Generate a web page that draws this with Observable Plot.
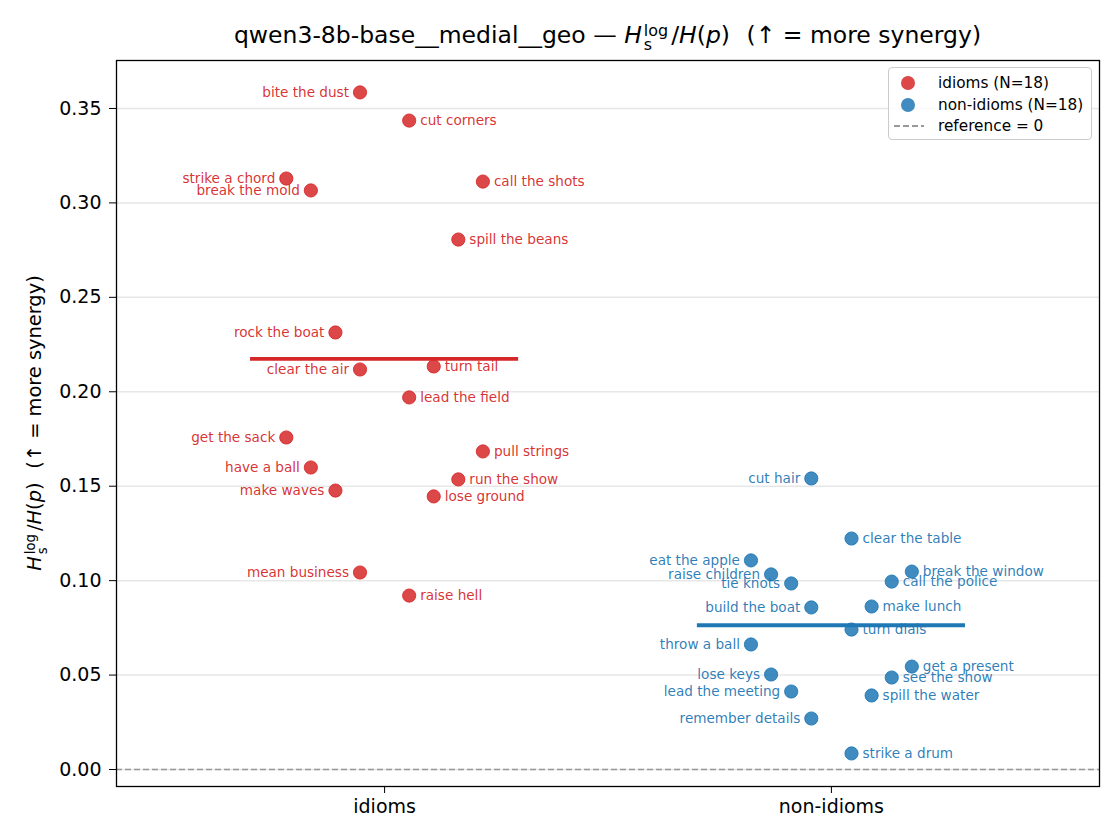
<!DOCTYPE html>
<html>
<head>
<meta charset="utf-8">
<script src="https://cdn.jsdelivr.net/npm/d3@7"></script>
<script src="https://cdn.jsdelivr.net/npm/@observablehq/plot@0.6"></script>
<style>
  body { margin: 0; background: white; font-family: "DejaVu Sans", sans-serif; }
  #wrap { position: relative; width: 1120px; height: 840px; overflow: hidden; }
  #title { position: absolute; left: 116px; width: 983px; top: 21px; text-align: center; font-size: 23.5px; white-space: nowrap; color: #000; }
  #ylab { position: absolute; left: 36px; top: 423px; transform: translate(-50%, -50%) rotate(-90deg); font-size: 19.4px; white-space: nowrap; color: #000; }
  .ss { display: inline-block; font-size: 0.68em; line-height: 0.9; vertical-align: -0.45em; margin: 0 3px 0 2px; text-align: left; }
  .ss span { display: block; }
  .it { font-style: italic; }
  .sp { display: inline-block; width: 0.7em; }
  #legend { position: absolute; left: 888px; top: 67px; width: 202px; height: 71px; border: 1px solid #cccccc; border-radius: 4px; background: rgba(255,255,255,0.8); font-size: 15.3px; color: #000; }
  .lrow { position: absolute; left: 0; height: 20px; line-height: 20px; }
  .lrow .mk { position: absolute; left: 12px; top: 3px; width: 14px; height: 14px; border-radius: 50%; }
  .lrow svg { position: absolute; left: 4px; top: 0; }
  .lrow .tx { position: absolute; left: 49px; top: 0; white-space: nowrap; }
</style>
</head>
<body>
<div id="wrap">
  <div id="chart"></div>
  <div id="title">qwen3-8b-base__medial__geo — <span class="it">H</span><span class="ss"><span>log</span><span>s</span></span>/<span class="it">H</span>(<span class="it">p</span>)<span class="sp"></span>(↑ = more synergy)</div>
  <div id="ylab"><span class="it">H</span><span class="ss"><span>log</span><span>s</span></span>/<span class="it">H</span>(<span class="it">p</span>)<span class="sp"></span>(↑ = more synergy)</div>
  <div id="legend"></div>
</div>
<script>
const categories = ["idioms", "non-idioms"];
const groupColors = ["#d62728", "#1f77b4"];

const idiomPhrases = ["bite the dust", "cut corners", "call the shots", "strike a chord", "break the mold", "spill the beans",
  "rock the boat", "turn tail", "clear the air", "lead the field", "get the sack", "pull strings",
  "have a ball", "run the show", "make waves", "lose ground", "mean business", "raise hell"];
const idiomValues = [0.3585, 0.3436, 0.3113, 0.3129, 0.3066, 0.2806,
  0.2314, 0.2134, 0.2118, 0.1970, 0.1758, 0.1684,
  0.1599, 0.1536, 0.1477, 0.1446, 0.1043, 0.0921];
const idiomJitter = [-0.055, 0.055, 0.22, -0.22, -0.165, 0.165,
  -0.11, 0.11, -0.055, 0.055, -0.22, 0.22,
  -0.165, 0.165, -0.11, 0.11, -0.055, 0.055];

const nonIdiomPhrases = ["cut hair", "clear the table", "eat the apple", "break the window", "raise children", "call the police",
  "tie knots", "make lunch", "build the boat", "turn dials", "throw a ball", "get a present",
  "lose keys", "see the show", "lead the meeting", "spill the water", "remember details", "strike a drum"];
const nonIdiomValues = [0.1541, 0.1223, 0.1107, 0.1048, 0.1033, 0.0995,
  0.0985, 0.0863, 0.0858, 0.0741, 0.0662, 0.0545,
  0.0503, 0.0487, 0.0413, 0.0392, 0.0270, 0.0085];
const nonIdiomJitter = [-0.045, 0.045, -0.18, 0.18, -0.135, 0.135,
  -0.09, 0.09, -0.045, 0.045, -0.18, 0.18,
  -0.135, 0.135, -0.09, 0.09, -0.045, 0.045];

const yTicks = [0, 0.05, 0.10, 0.15, 0.20, 0.25, 0.30, 0.35];
const xTicks = [0, 1];

const groups = [
  {phrases: idiomPhrases, values: idiomValues, jitter: idiomJitter},
  {phrases: nonIdiomPhrases, values: nonIdiomValues, jitter: nonIdiomJitter}
];
const rows = groups.flatMap((g, gi) => g.phrases.map((p, i) => ({
  phrase: p, value: g.values[i], pos: gi + g.jitter[i], jit: g.jitter[i], group: categories[gi], color: groupColors[gi]
})));
const means = groups.map((g, gi) => ({gi, mean: d3.mean(g.values), color: groupColors[gi]}));

const halfWidth = 0.3;

const plot = Plot.plot({
  width: 1120,
  height: 840,
  marginTop: 60,
  marginBottom: 54,
  marginLeft: 116,
  marginRight: 21,
  style: {fontFamily: "DejaVu Sans", fontSize: "19px", color: "#000", background: "white"},
  x: {domain: [-0.6, 1.6]},
  y: {domain: [-0.009, 0.3754]},
  marks: [
    Plot.gridY(yTicks, {stroke: "#b0b0b0", strokeOpacity: 0.3, strokeWidth: 1.5}),
    Plot.ruleY([0], {stroke: "#999", strokeWidth: 1.6, strokeDasharray: "6,3"}),
    Plot.dot(rows, {x: "pos", y: "value", r: 6.6, fill: "color", fillOpacity: 0.85, stroke: "color", strokeOpacity: 0.85, strokeWidth: 1}),
    Plot.text(rows.filter(d => d.jit < 0), {x: "pos", y: "value", text: "phrase", fill: "color", fillOpacity: 0.95, dx: -11, textAnchor: "end", fontSize: 13.6}),
    Plot.text(rows.filter(d => d.jit >= 0), {x: "pos", y: "value", text: "phrase", fill: "color", fillOpacity: 0.95, dx: 11, textAnchor: "start", fontSize: 13.6}),
    Plot.ruleY(means, {y: "mean", x1: d => d.gi - halfWidth, x2: d => d.gi + halfWidth, stroke: "color", strokeWidth: 3.9}),
    Plot.frame({stroke: "#000", strokeWidth: 1.3}),
    Plot.axisY(yTicks, {tickFormat: d3.format(".2f"), tickSize: 7, tickPadding: 8, label: null, fontSize: 19}),
    Plot.axisX(xTicks, {tickFormat: i => categories[i], tickSize: 7, tickPadding: 6, label: null, fontSize: 19})
  ]
});
document.getElementById("chart").appendChild(plot);

const legendItems = [
  {label: `idioms (N=${idiomValues.length})`, type: "dot", color: groupColors[0]},
  {label: `non-idioms (N=${nonIdiomValues.length})`, type: "dot", color: groupColors[1]},
  {label: "reference = 0", type: "dash"}
];
const legend = document.getElementById("legend");
legendItems.forEach((it, i) => {
  const row = document.createElement("div");
  row.className = "lrow";
  row.style.top = (5 + i * 21.5) + "px";
  if (it.type === "dot") {
    const mk = document.createElement("div");
    mk.className = "mk"; mk.style.background = it.color; mk.style.opacity = 0.85;
    row.appendChild(mk);
  } else {
    row.insertAdjacentHTML("beforeend",
      '<svg width="32" height="20"><line x1="1" y1="10" x2="31" y2="10" stroke="#999" stroke-width="1.8" stroke-dasharray="6,3"/></svg>');
  }
  const tx = document.createElement("div");
  tx.className = "tx";
  tx.textContent = it.label;
  row.appendChild(tx);
  legend.appendChild(row);
});
</script>
</body>
</html>
